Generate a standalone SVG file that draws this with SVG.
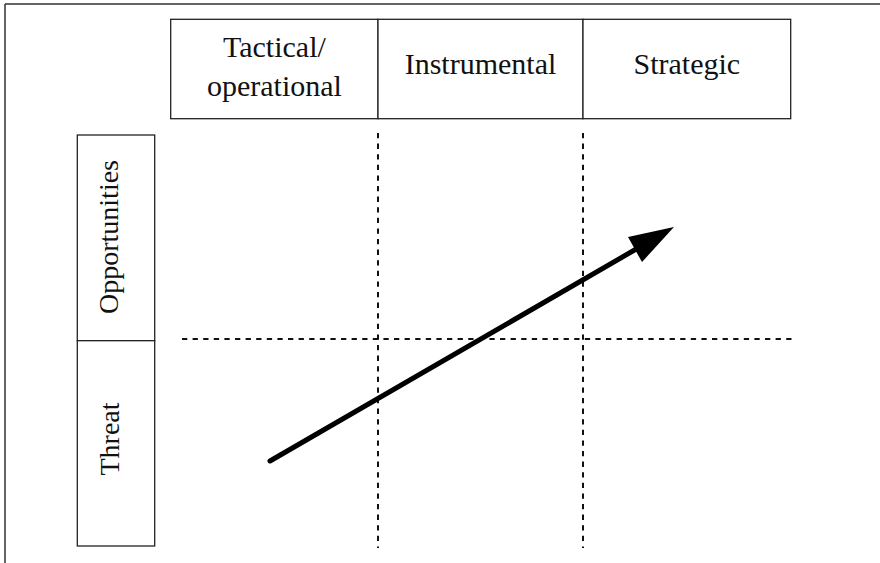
<svg xmlns="http://www.w3.org/2000/svg" width="880" height="563" viewBox="0 0 880 563">
<style>
.box{fill:#fff;stroke:#222;stroke-width:1.3}
.lbl{font-family:"Liberation Serif","Times New Roman",serif;font-size:30px;fill:#111;text-anchor:middle}
.rot{font-family:"Liberation Serif","Times New Roman",serif;font-size:28px;fill:#111;text-anchor:middle}
.dash{stroke:#111;stroke-width:2;stroke-dasharray:5.3 5.3;fill:none}
</style>
<rect width="880" height="563" fill="#fff"/>
<g id="frame" fill="none" stroke="#333" stroke-width="1.5">
<path d="M5 4H880M5 4V563"/>
</g>
<g id="col-tactical">
<rect class="box" x="170.7" y="19.3" width="207.3" height="99.4"/>
<text class="lbl" x="274.4" y="57">Tactical/</text>
<text class="lbl" x="274.4" y="96">operational</text>
</g>
<g id="col-instrumental">
<rect class="box" x="378" y="19.3" width="205" height="99.4"/>
<text class="lbl" x="480.5" y="74">Instrumental</text>
</g>
<g id="col-strategic">
<rect class="box" x="583" y="19.3" width="207.7" height="99.4"/>
<text class="lbl" x="686.8" y="74">Strategic</text>
</g>
<g id="row-opportunities">
<rect class="box" x="77.3" y="135" width="77.4" height="205.7"/>
<text class="rot" transform="translate(118 237) rotate(-90)">Opportunities</text>
</g>
<g id="row-threat">
<rect class="box" x="77.3" y="340.7" width="77.4" height="205.3"/>
<text class="rot" transform="translate(119 439) rotate(-90)">Threat</text>
</g>
<g id="connectors">
<path class="dash" d="M378 133V548"/>
<path class="dash" d="M583 133V548"/>
<path class="dash" d="M182 339H794"/>
<line x1="270" y1="461" x2="638" y2="248" stroke="#000" stroke-width="5" stroke-linecap="round"/>
<polygon points="674,227 628,237 642,262" fill="#000"/>
</g>
</svg>
